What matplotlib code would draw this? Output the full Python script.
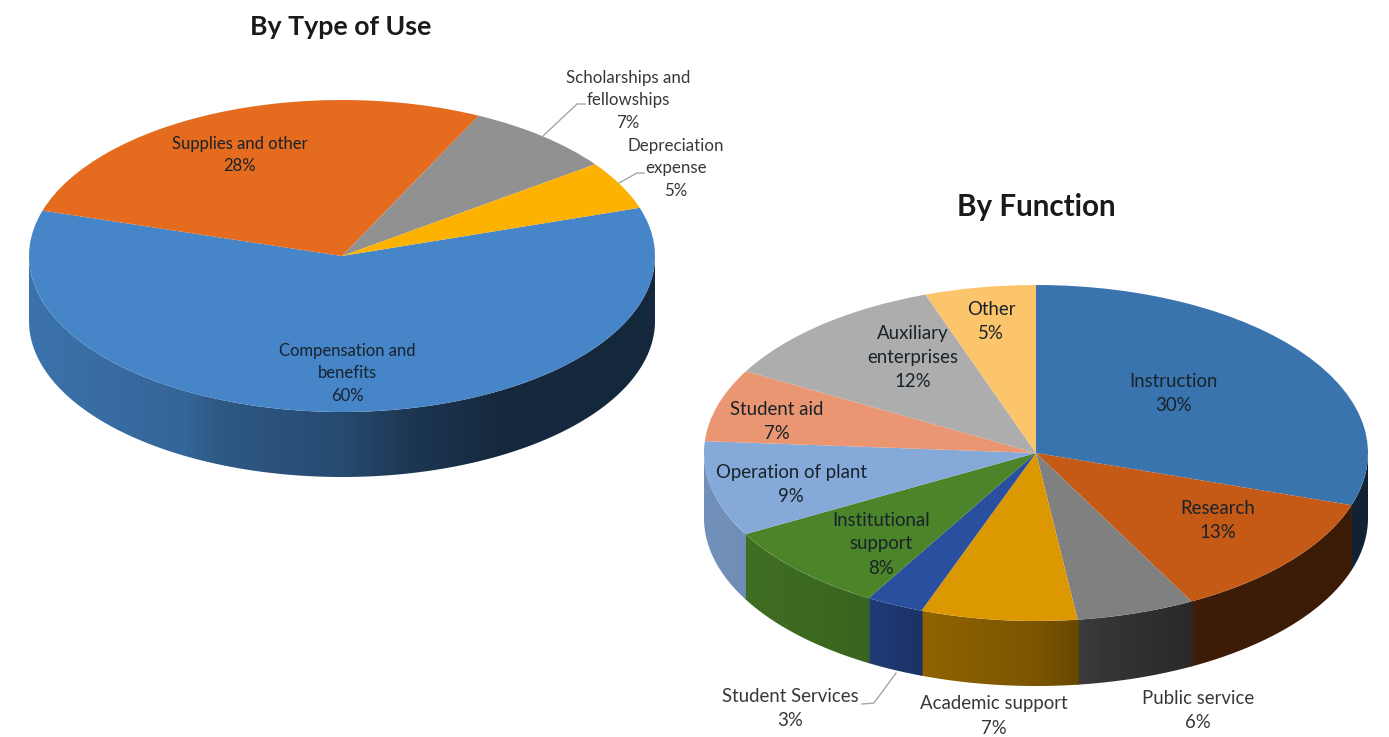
import matplotlib
matplotlib.use('Agg')
import matplotlib.pyplot as plt
from matplotlib.patches import Polygon
import numpy as np

plt.rcParams['font.family'] = ['Lato', 'DejaVu Sans']

W, H = 1389, 737

# By Type of Use, clockwise from the right edge
# (read from the slice edges, the printed labels are rounded)
use_values = [59.7, 27.5, 7.8, 5.0]
use_colors = ['#4585C8', '#E56B1F', '#919191', '#FDB100']

# By Function, clockwise from the top
func_values = [30.0, 12.2, 5.75, 7.6, 2.8, 8.55, 9.15, 6.95, 11.5, 5.4]
func_colors = ['#3A74AE', '#C55A17', '#808080', '#DC9800', '#2A4F9E',
               '#4C8429', '#85A9D9', '#EB9672', '#ADADAD', '#FDC56B']

# how dark the pie wall gets going left to right
shade_x = [-1.0, -0.5, -0.4, 0.0, 0.2, 0.5, 1.0]
shade_y = [0.86, 0.76, 0.67, 0.56, 0.42, 0.31, 0.30]


def draw_pie(values, colors, startangle, cx, cy, rx, ry, depth):
    ax = fig.add_axes([(cx - rx - 2) / W, 1 - (cy + ry + depth + 2) / H,
                       (2 * rx + 4) / W, (2 * ry + depth + 4) / H])
    wedges, _ = ax.pie(values, colors=colors, startangle=startangle,
                       counterclock=False, wedgeprops={'linewidth': 0})
    d = depth / ry
    shade = np.interp(np.linspace(-1, 1, 512), shade_x, shade_y)

    # Wall of the pie, only the front half shows
    for wedge, color in zip(wedges, colors):
        # small overlap so no light seam shows between slices
        t = np.radians(np.linspace(wedge.theta1 - 0.2, wedge.theta2 + 0.2, 300))
        t = t[np.sin(t) <= 0]
        if len(t) < 2:
            continue
        xs = np.cos(t)
        ys = np.sin(t)
        outline = np.column_stack([np.r_[xs, xs[::-1]], np.r_[ys, ys[::-1] - d]])
        clip = Polygon(outline, transform=ax.transData)
        grad = shade[None, :, None] * np.array(matplotlib.colors.to_rgb(color))
        im = ax.imshow(grad, extent=[-1, 1, -1 - d, 0], aspect='auto', zorder=0)
        im.set_clip_path(clip)

    ax.set_aspect('auto')
    ax.set_xlim(-1 - 2 / rx, 1 + 2 / rx)
    ax.set_ylim(-1 - (depth + 2) / ry, 1 + 2 / ry)
    return ax


fig = plt.figure(figsize=(W / 100, H / 100), dpi=100)

draw_pie(use_values, use_colors, 18, 342, 256, 313, 156, 65)
draw_pie(func_values, func_colors, 90, 1036, 453, 332, 168, 65)

# Overlay in image pixels for the text and leader lines
top = fig.add_axes([0, 0, 1, 1])
top.set_xlim(0, W)
top.set_ylim(H, 0)
top.axis('off')
top.patch.set_alpha(0)

titles = [('By Type of Use', 341, 27, 19.3), ('By Function', 1036, 207, 21.3)]
for txt, x, y, size in titles:
    top.text(x, y, txt, ha='center', va='center', fontsize=size, fontweight='bold', color='#1A1A1A')

inside = [
    ('Supplies and other\n28%', 240, 155, 12),
    ('Compensation and\nbenefits\n60%', 347, 373, 12),
    ('Instruction\n30%', 1173, 393, 13.4),
    ('Research\n13%', 1218, 521, 13.4),
    ('Institutional\nsupport\n8%', 881, 544, 13.4),
    ('Operation of plant\n9%', 791, 484, 13.4),
    ('Student aid\n7%', 777, 421, 13.4),
    ('Auxiliary\nenterprises\n12%', 913, 357, 13.4),
    ('Other\n5%', 991, 321, 13.4),
]
for txt, x, y, size in inside:
    top.text(x, y, txt, ha='center', va='center', fontsize=size, color='#18222A', linespacing=1.5)

outside = [
    ('Scholarships and\nfellowships\n7%', 628, 100, 12.2),
    ('Depreciation\nexpense\n5%', 676, 168, 12.2),
    ('Student Services\n3%', 790, 709, 13.4),
    ('Academic support\n7%', 994, 716, 13.4),
    ('Public service\n6%', 1198, 710, 13.4),
]
for txt, x, y, size in outside:
    top.text(x, y, txt, ha='center', va='center', fontsize=size, color='#383838', linespacing=1.5)

leaders = [
    ([543, 577, 585], [136, 104, 104]),
    ([619, 637, 644], [183, 173, 173]),
    ([896, 874, 862], [673, 703, 704]),
]
for xs, ys in leaders:
    top.plot(xs, ys, color='#A6A6A6', linewidth=1)

fig.savefig('out.png', dpi=100)
